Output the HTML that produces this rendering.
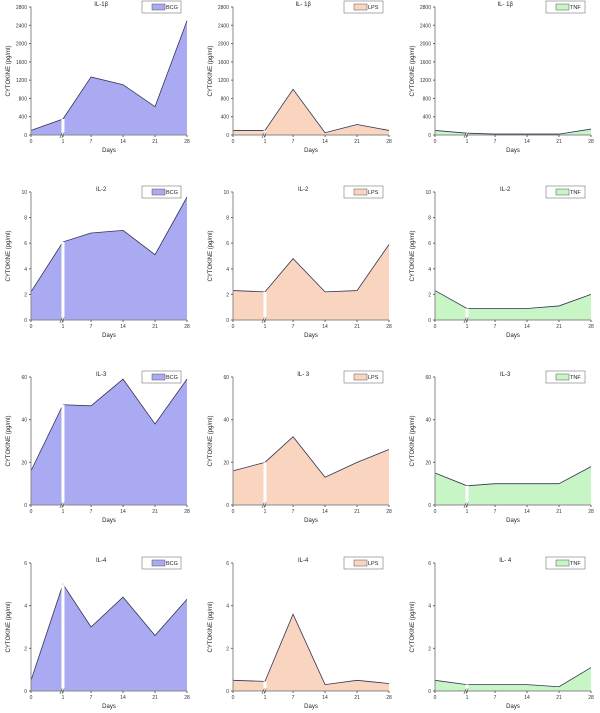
<!DOCTYPE html>
<html><head><meta charset="utf-8"><style>
body{margin:0;background:#fff;}
svg{display:block;font-family:"Liberation Sans",sans-serif;}
</style></head><body>
<svg id="c" width="600" height="713"></svg>
<script>
const days=["0","1","7","14","21","28"];
const groups=["BCG","LPS","TNF"];
const titles=[["IL-1β","IL- 1β","IL- 1β"],["IL-2","IL-2","IL-2"],["IL-3","IL- 3","IL-3"],["IL-4","IL-4","IL- 4"]];
const yMax=[2800,10,60,6];
const yStep=[400,2,20,2];
const il1bBCG=[100,350,1270,1100,620,2500];
const il1bLPS=[100,100,1000,50,230,100];
const il1bTNF=[100,40,20,20,20,130];
const il2BCG=[2.2,6.1,6.8,7.0,5.1,9.6];
const il2LPS=[2.3,2.2,4.8,2.2,2.3,5.9];
const il2TNF=[2.3,0.9,0.9,0.9,1.1,2.0];
const il3BCG=[16,47,46.5,59,38,59];
const il3LPS=[16,20,32,13,20,26];
const il3TNF=[15,9,10,10,10,18];
const il4BCG=[0.5,5.0,3.0,4.4,2.6,4.3];
const il4LPS=[0.5,0.45,3.6,0.3,0.5,0.35];
const il4TNF=[0.5,0.3,0.3,0.3,0.2,1.1];
const data=[[il1bBCG,il1bLPS,il1bTNF],[il2BCG,il2LPS,il2TNF],[il3BCG,il3LPS,il3TNF],[il4BCG,il4LPS,il4TNF]];
const fills=["#aaaaf2","#f9d4be","#c8f5c6"];
const NS="http://www.w3.org/2000/svg";
const svg=document.getElementById('c');
function mk(t,a,p){const e=document.createElementNS(NS,t);for(const k in a)e.setAttribute(k,a[k]);(p||svg).appendChild(e);return e;}
const colX=[31,233,435], rowTop=[7,192,377,563], W=156, H=128;
const xPos=[0,0.205,0.385,0.59,0.795,1];
for(let r=0;r<4;r++)for(let c=0;c<3;c++){
  const g=mk('g',{});
  
  
  const x0=colX[c], y0=rowTop[r], yb=y0+H;
  const xs=i=>x0+xPos[i]*W;
  const ys=v=>yb-v/yMax[r]*H;
  const vals=data[r][c];
  let pts=xs(0)+','+yb+' ';
  vals.forEach((v,i)=>pts+=xs(i)+','+ys(v)+' ');
  pts+=xs(5)+','+yb;
  const area=mk('polygon',{points:pts,fill:fills[c],stroke:'none'},g);
  
  
  const line=mk('polyline',{points:vals.map((v,i)=>xs(i)+','+ys(v)).join(' '),fill:'none',stroke:'#333355','stroke-width':0.8},g);
  
  
  mk('line',{x1:xs(1),x2:xs(1),y1:yb,y2:ys(vals[1]),stroke:'#fff','stroke-width':3},g);
  mk('line',{x1:x0,x2:x0,y1:y0,y2:yb,stroke:'#888','stroke-width':1},g);
  mk('line',{x1:x0,x2:x0+W,y1:yb,y2:yb,stroke:'#888','stroke-width':1},g);
  for(let v=0;v<=yMax[r];v+=yStep[r]){
    mk('line',{x1:x0-2,x2:x0,y1:ys(v),y2:ys(v),stroke:'#666'},g);
    const t=mk('text',{x:x0-4,y:ys(v)+2,'font-size':5,'text-anchor':'end',fill:'#333'},g);t.textContent=v;
  }
  days.forEach((d,i)=>{
    mk('line',{x1:xs(i),x2:xs(i),y1:yb,y2:yb+2,stroke:'#666'},g);
    const t=mk('text',{x:xs(i),y:yb+8,'font-size':5,'text-anchor':'middle',fill:'#333'},g);t.textContent=d;
  });
  const br=mk('text',{x:xs(1)-1,y:yb+3,'font-size':7,'text-anchor':'middle',fill:'#333','font-style':'italic'},g);br.textContent='//';
  const xl=mk('text',{x:x0+W/2,y:yb+17,'font-size':6,'text-anchor':'middle',fill:'#222'},g);xl.textContent='Days';
  
  const yl=mk('text',{x:0,y:0,'font-size':6,'text-anchor':'middle',fill:'#222',transform:`translate(${x0-21},${y0+H/2}) rotate(-90)`},g);yl.textContent='CYTOKINE (pg/ml)';
  
  const tt=mk('text',{x:x0+W*0.45,y:y0-1,'font-size':6,'text-anchor':'middle',fill:'#222'},g);tt.textContent=titles[r][c];
  
  const lg=mk('g',{},g);
  
  mk('rect',{x:x0+111,y:y0-6,width:39,height:12,fill:'#fff',stroke:'#777','stroke-width':0.6},lg);
  mk('rect',{x:x0+121,y:y0-3,width:13,height:6,fill:fills[c],stroke:'#555','stroke-width':0.5},lg);
  const lt=mk('text',{x:x0+135,y:y0+2,'font-size':5.5,fill:'#222'},lg);lt.textContent=groups[c];
}
</script>
</body></html>
